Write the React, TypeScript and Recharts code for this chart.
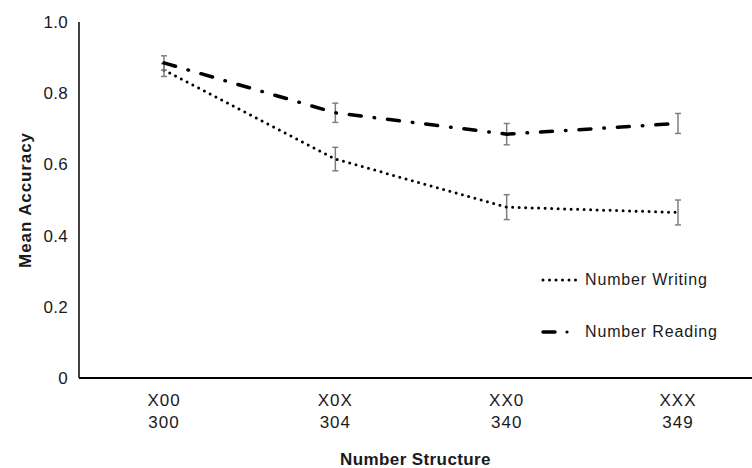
import React from 'react';
import { LineChart, Line, XAxis, YAxis, ErrorBar, Legend } from 'recharts';

const structures = ['X00', 'X0X', 'XX0', 'XXX'];
const examples = ['300', '304', '340', '349'];
const writing = [0.865, 0.615, 0.48, 0.465];
const writingErr = [0.018, 0.033, 0.035, 0.035];
const reading = [0.885, 0.745, 0.685, 0.715];
const readingErr = [0.02, 0.027, 0.03, 0.028];
const yTicks = [0, 0.2, 0.4, 0.6, 0.8, 1.0];

const data = structures.map((s, i) => ({
  name: s,
  example: examples[i],
  writing: writing[i],
  writingErr: writingErr[i],
  reading: reading[i],
  readingErr: readingErr[i],
}));

const FONT = '"Liberation Sans", Arial, sans-serif';
const TEXT = '#1a1a1a';

function StructureTick(props: any) {
  const { x, y, payload, index } = props;
  return (
    <text x={x} y={y} textAnchor="middle" fill={TEXT} fontFamily={FONT} fontSize={17} letterSpacing={1}>
      <tspan x={x} dy={26}>{payload.value}</tspan>
      <tspan x={x} dy={22}>{examples[index]}</tspan>
    </text>
  );
}

function LegendBox() {
  const row: React.CSSProperties = { display: 'flex', alignItems: 'center', height: 26 };
  const label: React.CSSProperties = { fontFamily: FONT, fontSize: 16, color: TEXT, letterSpacing: 0.85, marginLeft: 4 };
  return (
    <div>
      <div style={row}>
        <svg width={40} height={10}>
          <line x1={2} y1={5} x2={38} y2={5} stroke="#000" strokeWidth={3} strokeDasharray="0 6.5" strokeLinecap="round" />
        </svg>
        <span style={label}>Number Writing</span>
      </div>
      <div style={{ ...row, marginTop: 26 }}>
        <svg width={40} height={10}>
          <line x1={2} y1={5} x2={14} y2={5} stroke="#000" strokeWidth={3.5} strokeLinecap="round" />
          <circle cx={26} cy={5} r={1.6} fill="#000" />
        </svg>
        <span style={label}>Number Reading</span>
      </div>
    </div>
  );
}

export default function App() {
  return (
    <div style={{ position: 'absolute', left: 0, top: 0, width: 752, height: 468, background: '#fff' }}>
      <LineChart width={752} height={468} data={data} margin={{ top: 22, right: 0, bottom: 0, left: 0 }}>
        <XAxis
          dataKey="name"
          height={90}
          padding={{ left: 85, right: 74 }}
          axisLine={{ stroke: '#000', strokeWidth: 2 }}
          tickLine={false}
          tickSize={0}
          tick={<StructureTick />}
          interval={0}
          label={{
            value: 'Number Structure',
            position: 'insideBottom',
            offset: 3,
            style: { fontFamily: FONT, fontSize: 17, fontWeight: 'bold', fill: TEXT, letterSpacing: 0.4 },
          }}
        />
        <YAxis
          width={79}
          domain={[0, 1]}
          ticks={yTicks}
          tickFormatter={(v: number) => (v === 0 ? '0' : v.toFixed(1))}
          axisLine={{ stroke: '#000', strokeWidth: 1.5 }}
          tickLine={false}
          tickSize={0}
          tickMargin={11}
          tick={{ fontFamily: FONT, fontSize: 17, fill: TEXT, letterSpacing: 0.3 }}
          label={{
            value: 'Mean Accuracy',
            angle: -90,
            position: 'insideLeft',
            offset: 25,
            style: { textAnchor: 'middle', fontFamily: FONT, fontSize: 17, fontWeight: 'bold', fill: TEXT, letterSpacing: 0.9 },
          }}
        />
        <Legend
          layout="horizontal"
          verticalAlign="middle"
          align="center"
          content={<LegendBox />}
          wrapperStyle={{ position: 'absolute', left: 541, top: 267, width: 200 }}
        />
        <Line
          dataKey="writing"
          name="Number Writing"
          stroke="#000"
          strokeWidth={3}
          strokeDasharray="0 6.5"
          strokeLinecap="round"
          dot={false}
          isAnimationActive={false}
        >
          <ErrorBar dataKey="writingErr" direction="y" width={3} stroke="#7f7f7f" strokeWidth={1.5} />
        </Line>
        <Line
          dataKey="reading"
          name="Number Reading"
          stroke="#000"
          strokeWidth={3.5}
          strokeDasharray="12 13 0.5 13"
          strokeLinecap="round"
          dot={false}
          isAnimationActive={false}
        >
          <ErrorBar dataKey="readingErr" direction="y" width={3} stroke="#7f7f7f" strokeWidth={1.5} />
        </Line>
      </LineChart>
    </div>
  );
}
